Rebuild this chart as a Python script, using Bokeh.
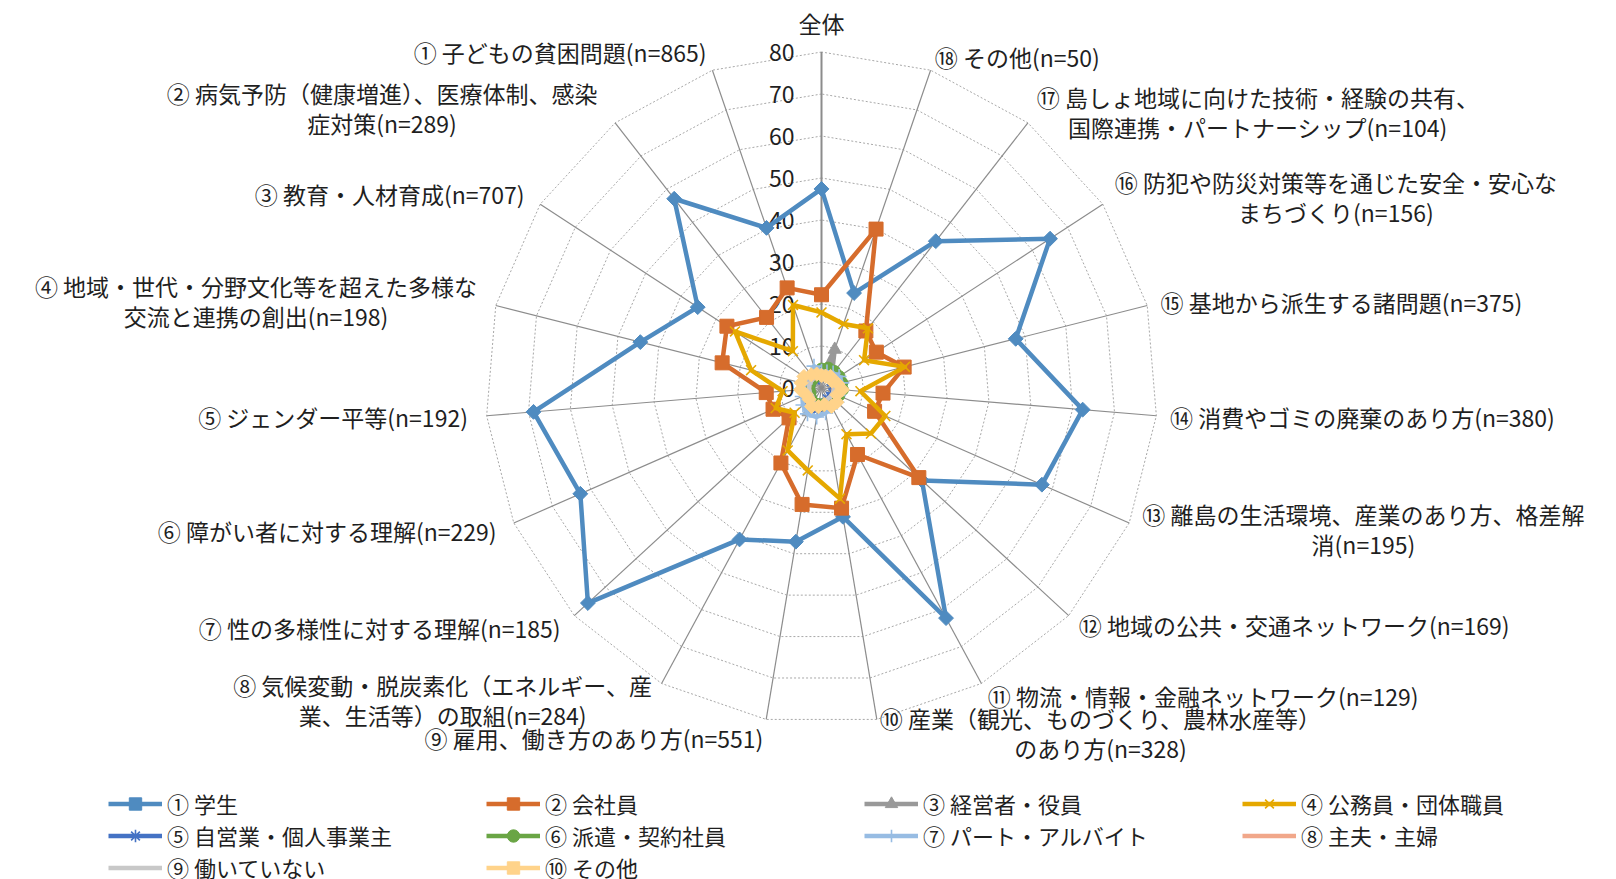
import math
from bokeh.plotting import figure
from bokeh.models import Range1d, Legend, LegendItem
from bokeh.embed import file_html
from bokeh.resources import INLINE
from bokeh.core.properties import value

# ---------------- data ----------------
categories = [
    "全体",
    "① 子どもの貧困問題(n=865)",
    "② 病気予防（健康増進）、医療体制、感染\n症対策(n=289)",
    "③ 教育・人材育成(n=707)",
    "④ 地域・世代・分野文化等を超えた多様な\n交流と連携の創出(n=198)",
    "⑤ ジェンダー平等(n=192)",
    "⑥ 障がい者に対する理解(n=229)",
    "⑦ 性の多様性に対する理解(n=185)",
    "⑧ 気候変動・脱炭素化（エネルギー、産\n業、生活等）の取組(n=284)",
    "⑨ 雇用、働き方のあり方(n=551)",
    "⑩ 産業（観光、ものづくり、農林水産等）\nのあり方(n=328)",
    "⑪ 物流・情報・金融ネットワーク(n=129)",
    "⑫ 地域の公共・交通ネットワーク(n=169)",
    "⑬ 離島の生活環境、産業のあり方、格差解\n消(n=195)",
    "⑭ 消費やゴミの廃棄のあり方(n=380)",
    "⑮ 基地から派生する諸問題(n=375)",
    "⑯ 防犯や防災対策等を通じた安全・安心な\nまちづくり(n=156)",
    "⑰ 島しょ地域に向けた技術・経験の共有、\n国際連携・パートナーシップ(n=104)",
    "⑱ その他(n=50)",
]

series_names = [
    "① 学生", "② 会社員", "③ 経営者・役員", "④ 公務員・団体職員",
    "⑤ 自営業・個人事業主", "⑥ 派遣・契約社員", "⑦ パート・アルバイト",
    "⑧ 主夫・主婦", "⑨ 働いていない", "⑩ その他",
]

# values in category order: 全体, ①..⑱
student   = [47.4, 40.3, 57.1, 35.2, 44.5, 68.8, 62.7, 75.6, 41.0, 37.1, 31.1, 62.3, 32.5, 57.3, 62.4, 47.7, 65.0, 44.3, 23.9]
employee  = [22.2, 25.2, 21.3, 26.9, 24.4, 13.2, 12.6, 10.5, 20.3, 28.1, 29.0, 18.0, 31.5, 13.8, 14.7, 20.3, 15.6, 17.2, 40.0]
executive = [3.0, 3.0, 2.0, 3.0, 3.0, 2.5, 3.0, 4.0, 6.5, 5.0, 4.0, 4.0, 3.0, 3.0, 3.0, 3.0, 4.0, 4.0, 9.7]
public    = [18.0, 20.9, 11.1, 24.6, 17.3, 9.3, 11.9, 8.7, 16.9, 19.9, 26.7, 12.5, 16.0, 16.6, 9.3, 20.5, 12.1, 18.0, 16.1]
selfemp   = [3.0, 3.0, 2.5, 3.0, 3.0, 4.0, 3.5, 4.0, 5.0, 5.0, 4.0, 3.0, 3.0, 3.0, 4.0, 3.0, 3.0, 4.0, 4.0]
dispatch  = [4.5, 4.0, 3.0, 3.0, 3.0, 3.0, 3.0, 3.5, 4.0, 4.0, 4.0, 4.0, 4.5, 4.5, 5.0, 5.0, 5.0, 5.0, 5.0]
parttime  = [4.0, 5.5, 4.0, 4.0, 4.0, 4.7, 5.0, 6.0, 7.0, 7.0, 6.0, 5.0, 5.0, 4.4, 4.5, 5.0, 5.0, 4.5, 4.0]
homemaker = [3.0, 3.0, 3.0, 3.0, 3.0, 3.0, 3.0, 3.0, 4.0, 4.0, 4.0, 3.0, 3.0, 3.0, 3.0, 3.0, 3.0, 3.0, 3.0]
nowork    = [3.0, 3.0, 3.0, 3.0, 3.0, 3.0, 3.0, 3.0, 4.0, 4.0, 4.0, 3.0, 3.0, 3.0, 3.0, 3.0, 3.0, 3.0, 3.0]
other     = [3.0, 3.5, 4.0, 5.0, 5.0, 5.0, 4.0, 4.0, 5.0, 4.5, 4.0, 5.0, 5.0, 4.0, 5.0, 4.0, 3.0, 3.5, 3.0]

series_values = [student, employee, executive, public, selfemp,
                 dispatch, parttime, homemaker, nowork, other]

tick_values = [0, 10, 20, 30, 40, 50, 60, 70, 80]

# ---------------- style ----------------
colors = ["#4F8BC0", "#D66C2C", "#999999", "#E5A800", "#4472C4",
          "#6AA545", "#97BCE3", "#F1A78A", "#C8C8C8", "#FFD38A"]
markers = [("square", 10.5, math.pi / 4), ("square", 14, 0), ("triangle", 13, 0),
           ("x", 14, 0), ("asterisk", 13, 0), ("circle", 12, 0), ("cross", 15, 0),
           (None, 0, 0), (None, 0, 0), ("square", 10, math.pi / 4)]

FONT = value("Noto Sans CJK JP")
FS = 23          # px
LFS = 22         # legend px
W, H = 1616, 879
CX, CY = 821.0, 387.5   # centre of the radar in canvas px
K = 4.2                 # px per value unit
RMAX = 80

p = figure(width=W, height=H, output_backend="svg", toolbar_location=None,
           x_range=Range1d(-CX / K, (W - CX) / K),
           y_range=Range1d(-(H - CY) / K, CY / K),
           x_axis_location=None, y_axis_location=None,
           min_border=0, outline_line_color=None)
p.grid.visible = False

n = len(categories)
ang = [-j * 2 * math.pi / n for j in range(n)]   # clockwise from top; ①.. run counter-clockwise
sx = [math.sin(a) for a in ang]
sy = [math.cos(a) for a in ang]

# grid polygons
for v in tick_values[1:]:
    p.line([v * s for s in sx] + [v * sx[0]], [v * c for c in sy] + [v * sy[0]],
           line_color="#A8A8A8", line_width=1, line_dash="2 2")
# spokes
p.segment(x0=[0] * (n - 1), y0=[0] * (n - 1),
          x1=[RMAX * s for s in sx[1:]], y1=[RMAX * c for c in sy[1:]],
          line_color="#8C8C8C", line_width=1.2)
p.segment(x0=[0], y0=[0], x1=[0], y1=[RMAX], line_color="#8C8C8C", line_width=2)

# tick labels
p.text(x=[0] * len(tick_values), y=tick_values, text=[str(t) for t in tick_values],
       x_offset=-27, text_align="right", text_baseline="middle",
       text_font=FONT, text_font_size=f"{FS}px", text_color="#1f1f1f")

# series
items = []
for name, vals, col, (mk, ms, ma) in zip(series_names, series_values, colors, markers):
    xs = [v * s for v, s in zip(vals, sx)]
    ys = [v * c for v, c in zip(vals, sy)]
    r_line = p.line(xs + [xs[0]], ys + [ys[0]], line_color=col, line_width=4.5,
                    line_join="round")
    rs = [r_line]
    if mk is not None:
        lw = 1.6 if mk in ("x", "asterisk", "cross") else 1
        r_sc = p.scatter(xs, ys, marker=mk, size=ms, angle=ma,
                         fill_color=col, line_color=col, line_width=lw)
        rs.append(r_sc)
    items.append(LegendItem(label=name, renderers=rs))


# category labels
def char_w(ch):
    if ch == " ":
        return 0.25
    if ch in "()":
        return 0.33
    if ord(ch) < 128:
        return 0.56
    return 1.0


def text_w(s):
    return sum(char_w(c) for c in s) * FS


LH = 30
lx, ly, lt = [], [], []
for j, lab in enumerate(categories):
    s, c = sx[j], sy[j]
    lines = lab.split("\n")
    wmax = max(text_w(t) for t in lines)
    if abs(s) < 0.1:
        d = 14 + LH / 2
        ax, ay = RMAX * K * s, RMAX * K * c + (d if c > 0 else -d)
        bx = ax
    else:
        d = 14 if s > 0 else 19
        ax = RMAX * K * s + d * s
        ay = RMAX * K * c + d * c
        bx = ax + wmax / 2 if s > 0 else ax - wmax / 2
    for k, t in enumerate(lines):
        y = ay + (len(lines) - 1) * LH / 2 - k * LH
        lx.append(bx / K)
        ly.append(y / K)
        lt.append(t)
p.text(x=lx, y=ly, text=lt, text_align="center", text_baseline="middle",
       text_font=FONT, text_font_size=f"{FS}px", text_color="#1f1f1f")

legend = Legend(items=items, orientation="horizontal", ncols=4,
                location=(108, -4), glyph_width=54, glyph_height=31,
                label_height=31, label_width=319, label_standoff=5,
                spacing=0, padding=0, margin=0,
                border_line_color=None, background_fill_alpha=0,
                label_text_font="Noto Sans CJK JP", label_text_font_size=f"{LFS}px",
                label_text_color="#1f1f1f")
p.add_layout(legend)

open("out.html", "w").write(file_html(p, INLINE))
